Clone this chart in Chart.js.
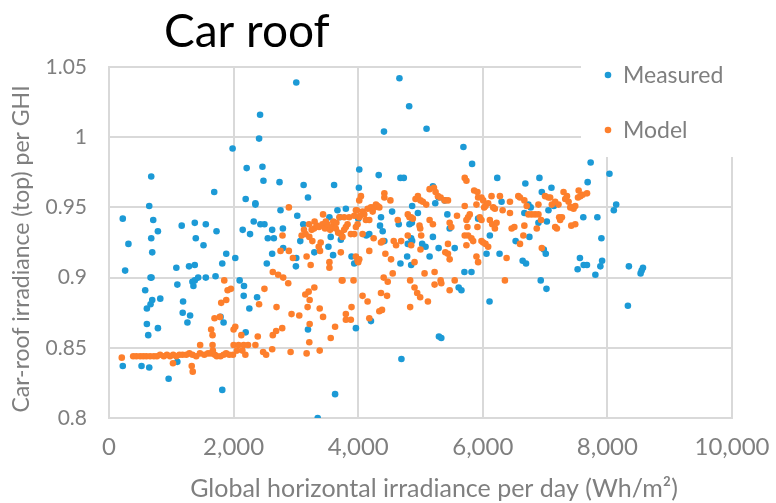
<!DOCTYPE html>
<html>
<head>
<meta charset="utf-8">
<script src="https://cdn.jsdelivr.net/npm/chart.js@4.4.0/dist/chart.umd.min.js"></script>
<style>
  html, body { margin: 0; padding: 0; background: #fff; }
  #wrap { width: 776px; height: 503px; position: relative; }
</style>
</head>
<body>
<div id="wrap"><canvas id="c" width="776" height="503"></canvas></div>
<script>
const chartTitle = 'Car roof';
const seriesNames = ['Measured', 'Model'];
const xAxisTitle = 'Global horizontal irradiance per day (Wh/m²)';
const yAxisTitle = 'Car-roof irradiance (top) per GHI';
const xTicks = [0, 2000, 4000, 6000, 8000, 10000];
const yTicks = [0.8, 0.85, 0.9, 0.95, 1, 1.05];

const measuredX = [
3006,2425,2409,1984,2210,2463,2479,678,1689,2737,3124,3613,3194,2194,2350,2350,646,2753,3022,221,
710,1167,1377,1554,1726,785,678,312,1393,1517,694,1882,2027,2146,2264,2323,2430,2495,2549,2646,
2619,2791,2796,2619,2533,3006,3000,3070,3118,3296,3522,3597,3538,3667,3705,3721,3559,259,1081,1285,
1377,1818,667,683,1097,1339,1377,1431,1554,1710,1355,2097,2167,581,694,667,823,608,1189,1183,
1302,1259,2162,2253,2377,1791,1839,608,630,785,2194,3194,1097,221,522,646,957,1818,3629,3350,
4662,4818,4414,5097,5689,5828,7731,7683,4017,4011,4329,4678,4732,6232,6909,6683,7102,6947,5199,3802,
4866,5237,5291,5388,6301,6732,6769,7054,7140,4544,4958,5431,6667,7613,7839,5925,4001,4366,4651,4823,
4861,5468,4350,4393,4420,4130,4178,6893,7028,6113,6748,6527,7904,4850,4866,5199,5027,5081,4796,5549,
5291,3893,3936,3990,4678,4786,4850,5146,6060,6269,6640,6694,6979,7011,7559,7522,7619,7672,7807,7887,
5705,5818,6930,7022,5613,5657,6108,3963,4205,5296,5334,4694,
8033,8141,8103,7915,8345,8533,8571,8550,8329
];
const measuredY = [
1.039,1.016,0.999,0.992,0.978,0.979,0.969,0.972,0.961,0.968,0.966,0.966,0.957,0.956,0.953,0.952,0.951,0.948,0.944,0.942,
0.941,0.937,0.939,0.938,0.933,0.933,0.928,0.924,0.928,0.923,0.918,0.917,0.914,0.934,0.931,0.940,0.938,0.938,0.928,0.928,
0.934,0.935,0.921,0.917,0.910,0.914,0.908,0.926,0.938,0.918,0.922,0.916,0.943,0.948,0.943,0.927,0.929,0.905,0.907,0.908,
0.909,0.910,0.900,0.900,0.895,0.897,0.898,0.900,0.900,0.901,0.894,0.898,0.894,0.891,0.884,0.881,0.885,0.878,0.883,0.875,
0.873,0.868,0.887,0.878,0.886,0.872,0.868,0.867,0.859,0.864,0.861,0.863,0.840,0.837,0.837,0.836,0.828,0.820,0.817,0.800,
1.042,1.022,1.004,1.006,0.993,0.981,0.982,0.968,0.977,0.964,0.973,0.971,0.971,0.971,0.971,0.967,0.964,0.961,0.965,0.949,
0.951,0.953,0.957,0.955,0.954,0.952,0.950,0.948,0.951,0.947,0.946,0.945,0.946,0.943,0.943,0.942,0.942,0.943,0.938,0.938,
0.939,0.935,0.937,0.933,0.926,0.930,0.931,0.939,0.940,0.930,0.929,0.926,0.928,0.928,0.926,0.929,0.924,0.922,0.924,0.921,
0.921,0.915,0.910,0.912,0.910,0.915,0.909,0.915,0.917,0.917,0.912,0.910,0.920,0.917,0.914,0.906,0.909,0.909,0.902,0.908,
0.904,0.904,0.898,0.892,0.893,0.891,0.883,0.864,0.869,0.858,0.857,0.842,
0.974,0.952,0.948,0.912,0.908,0.903,0.907,0.905,0.880
];

const modelX = [
205,388,440,500,550,600,660,720,770,820,880,930,980,1030,1080,1130,1180,1240,1290,1340,
1400,1460,1530,1590,1640,1700,1730,1790,1840,1880,1930,1990,
1027,1328,1344,1463,1662,1662,1640,1667,1694,1780,1801,1882,1904,1957,1850,2000,2027,2000,2054,2080,
2124,2140,2162,2189,2232,2350,2388,2409,2474,2495,2522,2619,2629,2683,2780,2689,2753,2785,2796,2887,
2887,2952,2629,2715,2877,2915,2930,3054,3172,3237,3151,3205,3221,3188,3296,3382,3436,3221,3215,3172,
3382,3559,3629,3737,3538,3538,3366,3387,3436,
3092,3156,3210,3253,3291,3334,3371,3425,3468,3506,3549,3586,3640,3678,3398,3264,3215,3699,3130,3300,
3480,3600,3650,
3721,3748,3802,3802,3882,3893,3925,3963,3990,4017,4001,4070,4151,4178,3721,3748,3775,3802,3829,3855,
3775,3882,3936,3963,3990,4017,3979,4017,4044,4070,4097,4124,4151,4178,4205,4232,4259,4285,4312,4339,
4248,4178,4070,4033,3936,3963,
4366,4409,4474,4463,4339,4382,4366,4393,4436,4527,4554,4570,4608,4635,4689,4420,4420,4517,4796,4823,
4850,4877,4796,4850,4904,4834,4904,4947,4995,4984,4995,5000,5065,5119,4834,4920,4958,5000,5038,5092,
5146,5216,5242,5280,5323,5388,5441,5146,5199,5011,5226,5226,5323,5334,5441,5468,5495,5441,5468,5398,
5549,5468,5586,
5710,5737,5710,5791,5764,5737,5753,5710,5764,5818,5737,5845,5861,5914,5898,5925,5979,6006,6022,6043,
6086,6140,6167,6194,5952,5979,5979,6006,6043,6086,5898,5925,5914,6113,6151,6194,6221,6275,6318,6355,
6382,6436,6436,6463,6506,6570,6597,6667,6667,6651,6597,6705,6732,6785,6839,6893,6866,6893,6936,6947,
7000,7054,7081,7108,7162,7215,7226,7242,7189,7296,7323,7377,7431,7457,7484,7420,7484,7162,
7539,7528,7566,7603,7673,7404,7351,7270
];
const modelY = [
0.843,0.844,0.844,0.844,0.844,0.844,0.844,0.844,0.844,0.845,0.844,0.845,0.844,0.845,0.844,0.845,0.845,0.845,0.846,0.845,
0.844,0.846,0.845,0.846,0.846,0.845,0.844,0.844,0.845,0.846,0.845,0.845,
0.839,0.837,0.833,0.852,0.852,0.859,0.863,0.848,0.871,0.872,0.882,0.884,0.891,0.892,0.898,0.863,0.865,0.852,0.848,0.852,
0.859,0.848,0.852,0.845,0.852,0.852,0.858,0.881,0.847,0.892,0.845,0.849,0.859,0.862,0.864,0.879,0.919,0.930,0.900,0.950,
0.919,0.914,0.904,0.902,0.896,0.847,0.874,0.873,0.915,0.909,0.888,0.890,0.884,0.879,0.893,0.878,0.872,0.867,0.854,0.846,
0.848,0.857,0.865,0.898,0.911,0.907,0.922,0.919,0.945,
0.930,0.931,0.938,0.934,0.935,0.937,0.936,0.938,0.935,0.938,0.934,0.936,0.935,0.932,0.925,0.926,0.929,0.943,0.934,0.940,
0.940,0.940,0.939,
0.918,0.898,0.874,0.870,0.870,0.879,0.898,0.915,0.912,0.913,0.911,0.887,0.883,0.871,0.931,0.929,0.934,0.936,0.938,0.943,
0.943,0.931,0.931,0.936,0.938,0.943,0.948,0.955,0.958,0.947,0.945,0.941,0.949,0.941,0.950,0.947,0.950,0.952,0.951,0.950,
0.928,0.919,0.931,0.944,0.944,0.948,
0.889,0.900,0.897,0.887,0.876,0.877,0.925,0.926,0.917,0.913,0.903,0.926,0.923,0.941,0.926,0.960,0.957,0.955,0.945,0.943,
0.943,0.942,0.930,0.923,0.911,0.898,0.893,0.889,0.886,0.937,0.935,0.920,0.903,0.883,0.879,0.956,0.958,0.955,0.954,0.952,
0.963,0.964,0.961,0.958,0.957,0.955,0.955,0.941,0.938,0.930,0.904,0.895,0.898,0.896,0.924,0.939,0.936,0.917,0.913,0.918,
0.898,0.891,0.944,
0.971,0.969,0.951,0.945,0.943,0.941,0.936,0.930,0.930,0.928,0.923,0.926,0.962,0.961,0.952,0.957,0.957,0.955,0.950,0.951,
0.953,0.958,0.950,0.949,0.943,0.941,0.926,0.925,0.924,0.922,0.915,0.911,0.936,0.941,0.938,0.935,0.939,0.958,0.948,0.898,
0.914,0.954,0.946,0.935,0.936,0.958,0.957,0.955,0.937,0.930,0.924,0.951,0.945,0.945,0.945,0.945,0.935,0.952,0.941,0.921,
0.958,0.957,0.957,0.952,0.954,0.952,0.943,0.941,0.935,0.961,0.956,0.954,0.950,0.949,0.951,0.937,0.938,0.936,
0.962,0.957,0.958,0.959,0.960,0.950,0.958,0.943
];

const BLUE = '#1c9ad6';
const ORANGE = '#fd7f2c';
const GRID = '#d9d9d9';
const TEXT = '#7f7f7f';

const toPoints = (xs, ys) => xs.map((x, i) => ({ x: x, y: ys[i] }));

const overlay = {
  id: 'overlay',
  afterDraw(chart) {
    const ctx = chart.ctx;
    ctx.save();
    // legend box covering the grid, as in the original
    ctx.fillStyle = '#ffffff';
    ctx.fillRect(581, 40, 195, 117);
    const items = [[seriesNames[0], BLUE, 75], [seriesNames[1], ORANGE, 130]];
    ctx.font = '23px Lato';
    ctx.textBaseline = 'middle';
    ctx.textAlign = 'left';
    items.forEach(([label, col, y]) => {
      ctx.fillStyle = col;
      ctx.beginPath();
      ctx.arc(608, y, 3.3, 0, Math.PI * 2);
      ctx.fill();
      ctx.fillStyle = TEXT;
      ctx.fillText(label, 623, y + 1);
    });
    // chart title
    ctx.fillStyle = '#000000';
    ctx.font = '46px Lato';
    ctx.textBaseline = 'alphabetic';
    ctx.fillText(chartTitle, 164, 47);
    // axis titles
    ctx.fillStyle = TEXT;
    ctx.textAlign = 'center';
    ctx.font = '25px Lato';
    ctx.fillText(xAxisTitle, 434, 497);
    ctx.save();
    ctx.translate(29, 249);
    ctx.rotate(-Math.PI / 2);
    ctx.font = '23px Lato';
    ctx.fillText(yAxisTitle, 0, 0);
    ctx.restore();
    ctx.restore();
  }
};

Chart.defaults.font.family = 'Lato';
Chart.defaults.color = TEXT;

new Chart(document.getElementById('c'), {
  type: 'scatter',
  data: {
    datasets: [
      { label: seriesNames[0], data: toPoints(measuredX, measuredY), backgroundColor: BLUE, borderWidth: 0, pointRadius: 3.3, order: 2 },
      { label: seriesNames[1], data: toPoints(modelX, modelY), backgroundColor: ORANGE, borderWidth: 0, pointRadius: 3.3, order: 1 }
    ]
  },
  options: {
    responsive: false,
    animation: false,
    devicePixelRatio: 1,
    layout: { padding: { top: 67, right: 44, left: 0, bottom: 0 } },
    plugins: { legend: { display: false }, tooltip: { enabled: false }, title: { display: false } },
    scales: {
      x: {
        type: 'linear', min: 0, max: 10000,
        afterBuildTicks: s => { s.ticks = xTicks.map(v => ({ value: v })); },
        afterFit: s => { s.height = 85; s.paddingRight = 0; s.paddingLeft = 0; },
        ticks: { color: TEXT, font: { size: 24 }, padding: 15, maxRotation: 0, callback: v => Number(v).toLocaleString('en-US') },
        grid: { color: GRID, lineWidth: 2, drawTicks: false },
        border: { color: GRID, width: 2 },
        title: { display: false }
      },
      y: {
        type: 'linear', min: 0.8, max: 1.05,
        afterBuildTicks: s => { s.ticks = yTicks.map(v => ({ value: v })); },
        afterFit: s => { s.width = 109; s.paddingTop = 0; s.paddingBottom = 0; },
        ticks: { color: TEXT, font: { size: 21 }, padding: 22, callback: v => String(+Number(v).toFixed(2)) },
        grid: { color: GRID, lineWidth: 2, drawTicks: false },
        border: { color: GRID, width: 2 },
        title: { display: false }
      }
    }
  },
  plugins: [overlay]
});
</script>
</body>
</html>
